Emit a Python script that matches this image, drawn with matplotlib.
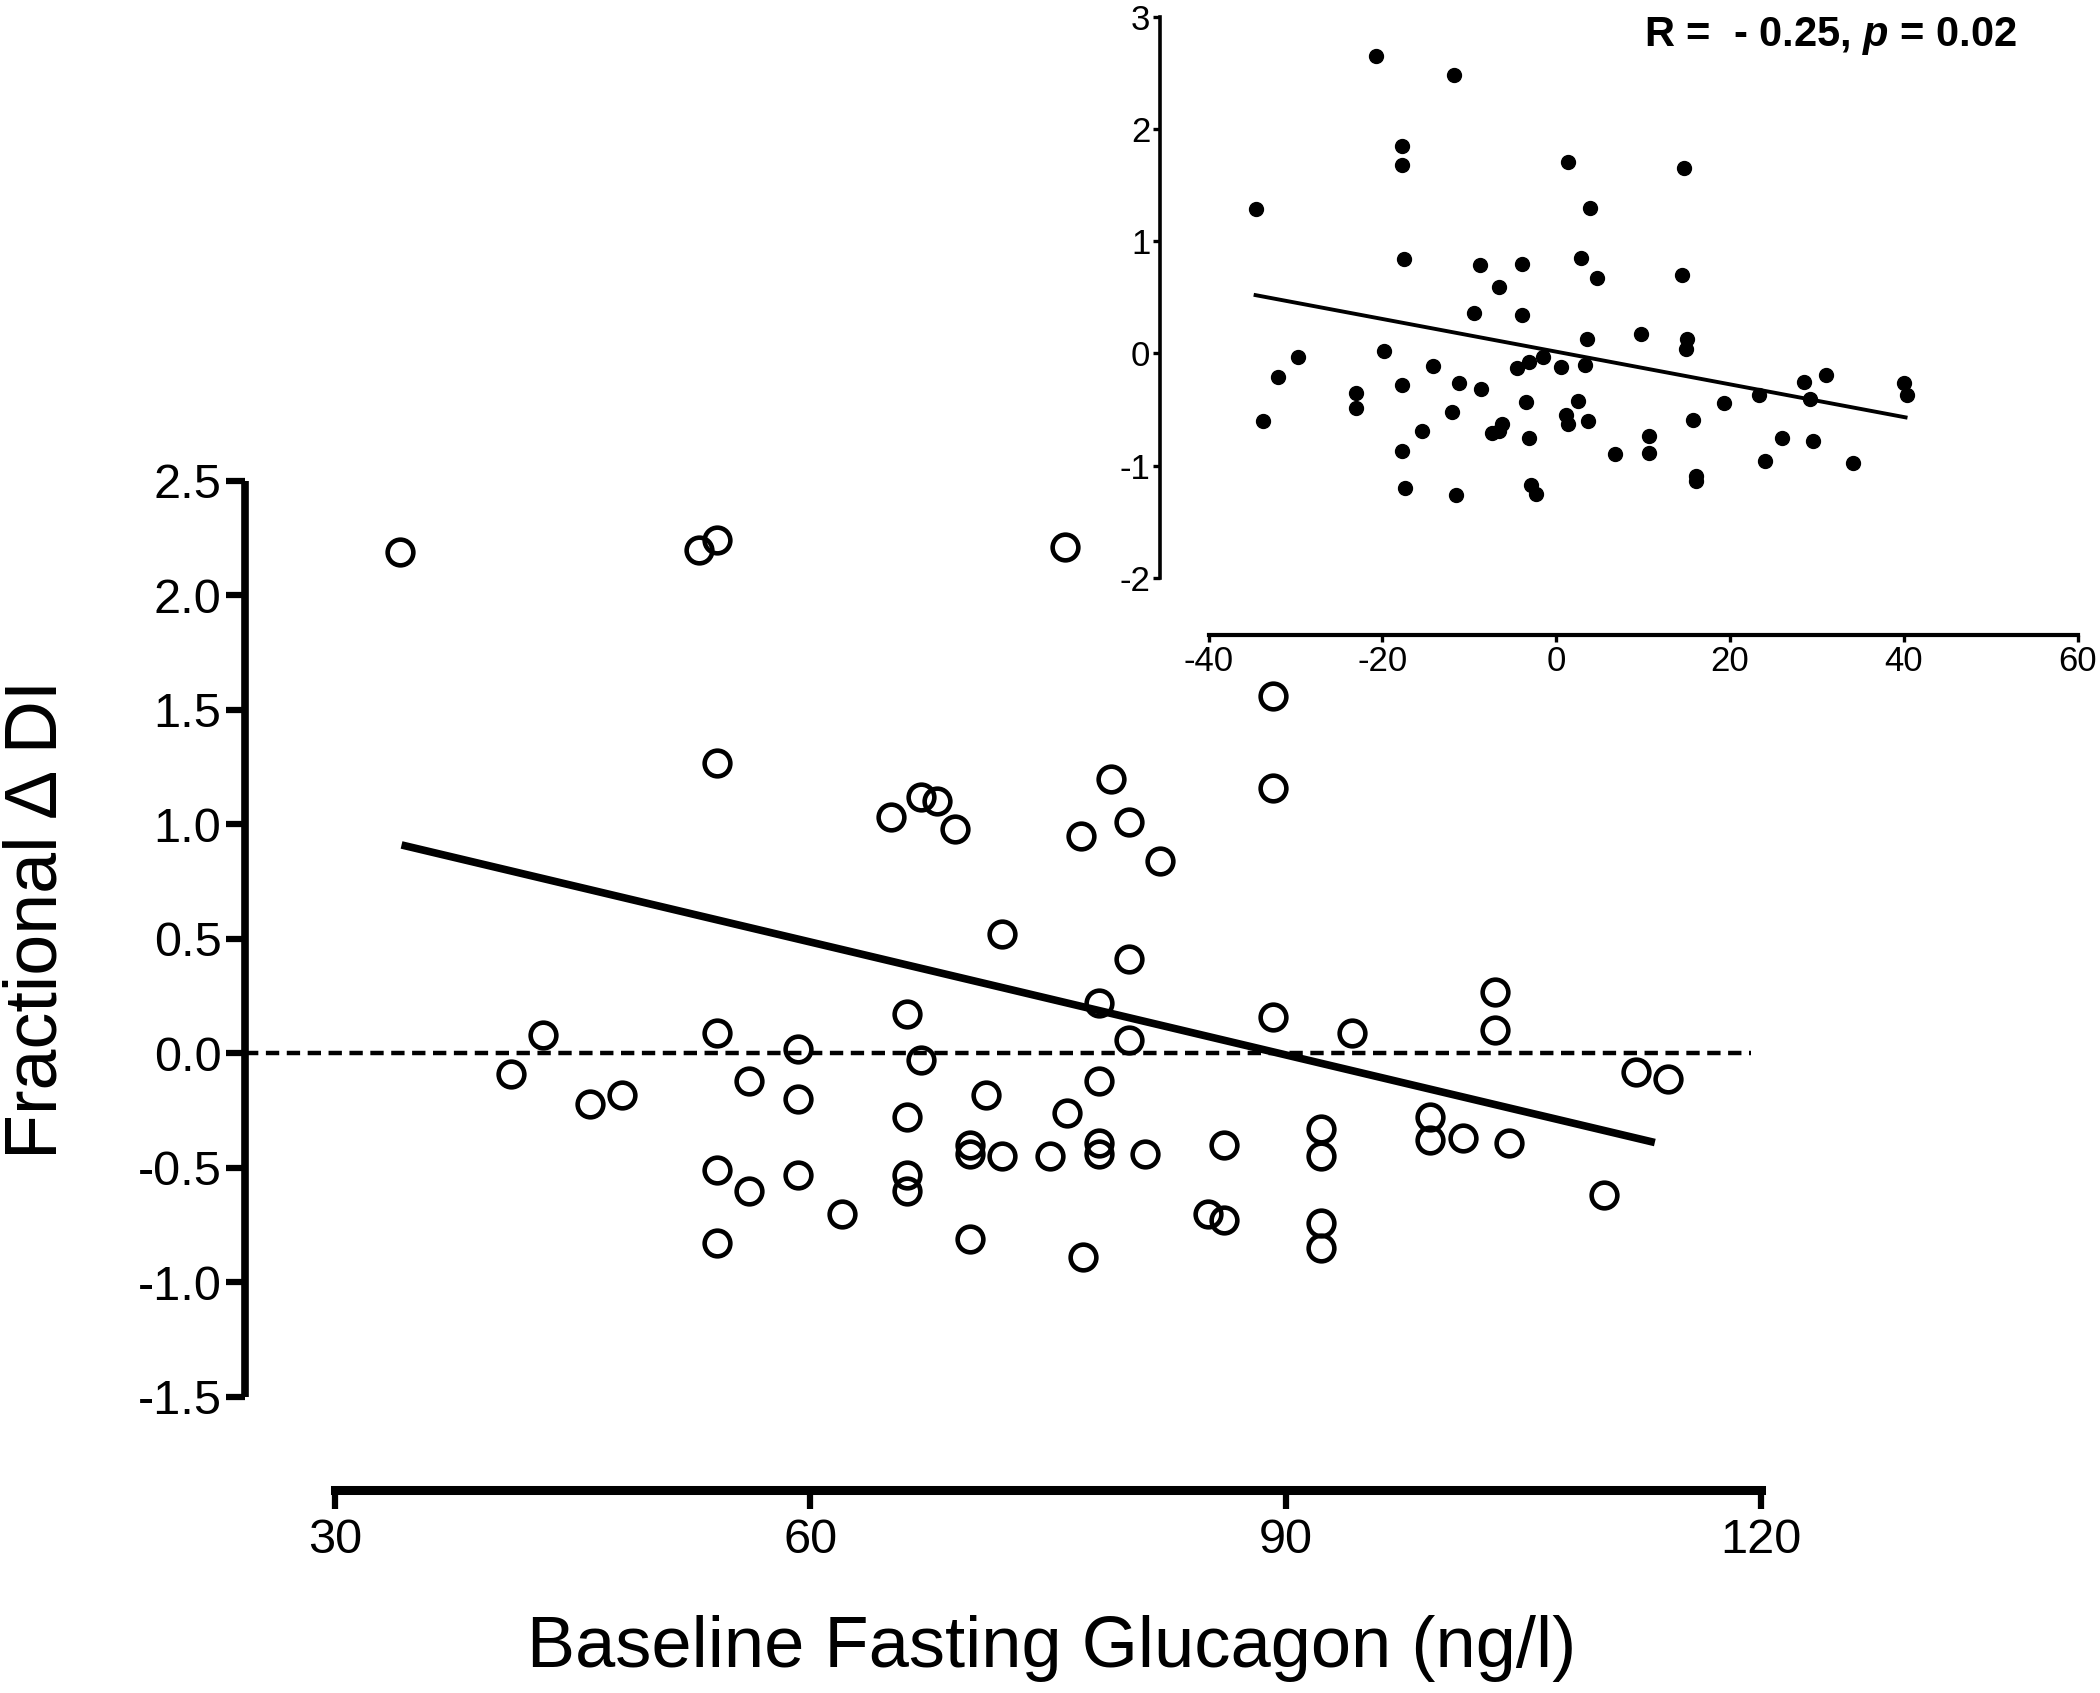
import matplotlib
matplotlib.use("Agg")
import matplotlib.pyplot as plt
from matplotlib import font_manager
import numpy as np

# ---------------- data ----------------
main_x = [34.1, 53.0, 54.1, 76.1, 54.1, 89.2, 89.2, 65.1, 67.0, 68.0, 69.1, 79.0,
          77.1, 80.1, 82.1, 72.1, 80.1, 66.1, 78.2, 80.1, 89.2, 94.2, 103.2, 103.2,
          43.1, 41.1, 46.1, 48.1, 54.1, 59.2, 56.1, 59.2, 67.0, 66.1, 71.1, 76.2,
          78.2, 54.1, 56.1, 59.2, 66.1, 66.1, 62.0, 70.1, 70.1, 72.1, 75.1, 78.2,
          78.2, 81.1, 86.1, 92.2, 92.2, 85.1, 86.1, 92.2, 92.2, 70.1, 77.2, 54.1,
          99.1, 99.1, 101.2, 104.1, 110.1, 112.1, 114.1]
main_y = [2.19, 2.20, 2.24, 2.21, 1.27, 1.56, 1.16, 1.03, 1.12, 1.10, 0.98, 1.20,
          0.95, 1.01, 0.84, 0.52, 0.41, 0.17, 0.22, 0.06, 0.16, 0.09, 0.27, 0.10,
          0.08, -0.09, -0.22, -0.18, 0.09, 0.02, -0.12, -0.20, -0.03, -0.28, -0.18, -0.26,
          -0.12, -0.51, -0.60, -0.53, -0.53, -0.60, -0.70, -0.40, -0.44, -0.45, -0.45, -0.39,
          -0.44, -0.44, -0.40, -0.33, -0.45, -0.70, -0.73, -0.74, -0.85, -0.81, -0.89, -0.83,
          -0.28, -0.38, -0.37, -0.39, -0.62, -0.08, -0.11]
main_fit_slope = -0.01643
main_fit_intercept = 1.472
main_fit_range = [34.2, 113.3]
zero_line_end = 119.4

inset_x = [-34.6, -33.7, -32.0, -29.7, -20.8, -19.8, -23.0, -23.0, -17.8, -17.8,
           -17.5, -17.7, -17.7, -17.4, -15.5, -14.2, -11.8, -12.0, -11.2, -11.5,
           -9.5, -8.8, -8.7, -6.6, -7.4, -6.6, -6.2, -4.5, -3.9, -3.9,
           -3.5, -3.1, -3.1, -2.9, -2.3, -1.5, 0.5, 1.1, 1.4, 1.3,
           2.9, 2.5, 3.5, 3.3, 3.6, 3.9, 4.7, 6.8, 9.7, 10.7,
           10.7, 14.7, 14.5, 15.0, 14.9, 15.7, 16.1, 16.1, 19.3, 23.3,
           24.0, 26.0, 28.5, 29.2, 29.6, 31.0, 34.1, 40.0, 40.4]
inset_y = [1.29, -0.60, -0.21, -0.03, 2.65, 0.02, -0.35, -0.49, 1.85, 1.68,
           0.84, -0.28, -0.87, -1.20, -0.69, -0.11, 2.48, -0.52, -0.26, -1.26,
           0.36, 0.79, -0.32, 0.59, -0.71, -0.69, -0.63, -0.13, 0.80, 0.34,
           -0.43, -0.75, -0.08, -1.17, -1.25, -0.03, -0.12, -0.55, -0.63, 1.71,
           0.85, -0.42, 0.13, -0.10, -0.60, 1.30, 0.67, -0.90, 0.17, -0.74,
           -0.89, 1.65, 0.70, 0.13, 0.04, -0.59, -1.09, -1.14, -0.44, -0.37,
           -0.96, -0.75, -0.25, -0.41, -0.78, -0.19, -0.98, -0.26, -0.37]
inset_fit_slope = -0.01457
inset_fit_intercept = 0.016
inset_fit_range = [-34.6, 40.2]

main_xticks = [30, 60, 90, 120]
main_yticks = [-1.5, -1.0, -0.5, 0.0, 0.5, 1.0, 1.5, 2.0, 2.5]
inset_xticks = [-40, -20, 0, 20, 40, 60]
inset_yticks = [-2, -1, 0, 1, 2, 3]

x_label = "Baseline Fasting Glucagon (ng/l)"
y_label = "Fractional \u0394 DI"
stat_text = "R =  - 0.25, $p$ = 0.02"

# ---------------- fonts ----------------
names = {f.name for f in font_manager.fontManager.ttflist}
base_font = "Liberation Sans" if "Liberation Sans" in names else "DejaVu Sans"
tick_font = "Liberation Sans Narrow" if "Liberation Sans Narrow" in names else base_font
plt.rcParams["font.family"] = [base_font, "DejaVu Sans"]
plt.rcParams["mathtext.fontset"] = "custom"
plt.rcParams["mathtext.it"] = base_font + ":italic:bold"
plt.rcParams["mathtext.rm"] = base_font + ":bold"

W, H = 2100, 1693
fig = plt.figure(figsize=(W / 100, H / 100), dpi=100)

def fx(px):
    return px / W

def fy(py):
    return 1 - py / H

# ---------------- main axes ----------------
ax = fig.add_axes([fx(245), fy(1490), fx(1780) - fx(245), fy(458) - fy(1490)])
ax.set_xlim(24.32, 121.2)
ax.set_ylim(-1.907, 2.6)
for s in ["top", "right"]:
    ax.spines[s].set_visible(False)
ax.spines["left"].set_bounds(-1.5, 2.5)
ax.spines["bottom"].set_bounds(30, 120)
ax.spines["left"].set_linewidth(5.5)
ax.spines["bottom"].set_linewidth(6.5)
ax.spines["left"].set_capstyle("butt")
ax.set_xticks(main_xticks)
ax.set_yticks(main_yticks)
ax.set_xticklabels([str(v) for v in main_xticks])
ax.set_yticklabels(["%.1f" % v for v in main_yticks])
ax.tick_params(axis="both", direction="out", length=14, width=4.5, color="black")
ax.tick_params(axis="x", pad=6)
ax.tick_params(axis="y", pad=3)
for lab in ax.get_xticklabels() + ax.get_yticklabels():
    lab.set_fontfamily([tick_font, "DejaVu Sans"])
    lab.set_fontsize(35)

ax.plot([ax.get_xlim()[0], zero_line_end], [0, 0], color="black", lw=3.2,
        linestyle=(0, (3.0, 1.7)), zorder=1)
fx_main = np.array(main_fit_range)
ax.plot(fx_main, main_fit_intercept + main_fit_slope * fx_main, color="black",
        lw=5.5, solid_capstyle="butt", zorder=2)
ax.plot(main_x, main_y, linestyle="none", marker="o", markersize=18.5,
        markerfacecolor="none", markeredgecolor="black", markeredgewidth=3.3,
        zorder=3)

fig.text(fx(37), fy(919), y_label, rotation=90, ha="center", va="center",
         fontsize=53)
fig.text(fx(1052), fy(1667), x_label, ha="center", va="baseline", fontsize=52)

# ---------------- inset axes ----------------
ax2 = fig.add_axes([fx(1160), fy(635), fx(2095) - fx(1160), fy(6) - fy(635)])
ax2.set_xlim(-45.6, 62)
ax2.set_ylim(-2.51, 3.098)
for s in ["top", "right"]:
    ax2.spines[s].set_visible(False)
ax2.spines["left"].set_bounds(-2, 3)
ax2.spines["bottom"].set_bounds(-40, 60)
ax2.spines["left"].set_linewidth(2.6)
ax2.spines["bottom"].set_linewidth(3.0)
ax2.set_xticks(inset_xticks)
ax2.set_yticks(inset_yticks)
ax2.set_xticklabels([str(v) for v in inset_xticks])
ax2.set_yticklabels([str(v) for v in inset_yticks])
ax2.tick_params(axis="both", direction="out", length=5, width=2.4, color="black",
                pad=2, labelsize=25)
for lab in ax2.get_xticklabels() + ax2.get_yticklabels():
    lab.set_fontfamily([tick_font, "DejaVu Sans"])
    lab.set_fontsize(25)
for lab in ax2.get_xticklabels():
    lab.set_clip_on(False)

fx_in = np.array(inset_fit_range)
ax2.plot(fx_in, inset_fit_intercept + inset_fit_slope * fx_in, color="black",
         lw=2.8, zorder=2)
ax2.plot(inset_x, inset_y, linestyle="none", marker="o", markersize=10,
         markerfacecolor="black", markeredgecolor="black", zorder=3)

fig.text(fx(2017), fy(36), stat_text, ha="right", va="center", fontsize=30,
         fontweight="bold")

fig.savefig("out.png", dpi=100, facecolor="white")
